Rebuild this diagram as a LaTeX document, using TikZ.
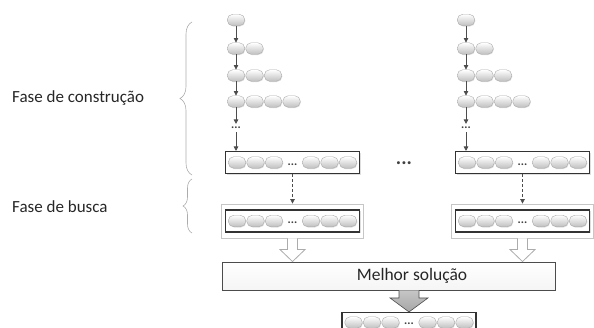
\documentclass[tikz,border=0pt]{standalone}
\usepackage{fontspec}
\setmainfont{Carlito}
\usetikzlibrary{arrows.meta,shadows,decorations.pathreplacing,calc}
\begin{document}
\begin{tikzpicture}[x=1pt,y=-1pt,
  pill/.style={draw=gray!65, rounded corners=5.5pt, minimum width=17.5pt, minimum height=11.5pt, inner sep=0pt,
    top color=white, bottom color=gray!50, drop shadow={opacity=0.25, shadow xshift=0.6pt, shadow yshift=-0.8pt}},
  arr/.style={draw=black!70, line width=0.7pt, -{Triangle[length=4.5pt,width=4.5pt]}},
  darr/.style={arr, dashed, dash pattern=on 3pt off 2pt},
  dotlab/.style={inner sep=0pt, font=\fontsize{12}{12}\selectfont\bfseries, text=black!75},
  solbox/.style={draw=black!80, line width=1.1pt, fill=white, minimum width=134pt, minimum height=22pt, inner sep=0pt,
    drop shadow={opacity=0.25, shadow xshift=1pt, shadow yshift=-1pt}},
  outerbox/.style={draw=gray!45, line width=0.8pt, fill=white, minimum width=142pt, minimum height=34pt, inner sep=0pt},
  hollow/.style={draw=gray!65, fill=white, line width=0.8pt, line join=miter},
  bigarrow/.style={draw=gray!60!black, top color=gray!45, bottom color=gray!70, line width=0.6pt, line join=miter},
  bestbox/.style={draw=black!70, line width=0.9pt, top color=white, bottom color=gray!8, minimum width=333pt, minimum height=28pt, inner sep=0pt,
    drop shadow={opacity=0.35, shadow xshift=1pt, shadow yshift=-1.2pt}},
  phase/.style={anchor=west, inner sep=0pt, font=\fontsize{17}{20}\selectfont, text=black!85},
  bracestyle/.style={draw=gray!65, line width=0.6pt, decorate}
]
\useasboundingbox (0,0) rectangle (594,327);

% phase labels and braces
\node[phase] (fc) at (12,98) {Fase de construção};
\node[phase] (fb) at (12,207) {Fase de busca};
\draw[bracestyle, decoration={brace, amplitude=12pt}] (192,175) -- (192,22);
\draw[bracestyle, decoration={brace, amplitude=9pt}] (192,233) -- (192,179);

% construction columns
\foreach \c/\ox in {L/0, R/230} {
  \foreach \r/\y/\n in {1/20/1, 2/48.5/2, 3/75.5/3, 4/101.5/4} {
    \foreach \k in {1,...,\n} {
      \node[pill] (\c\r-\k) at ({236+\ox+18.5*(\k-1)},\y) {};
    }
  }
  \node[dotlab] (\c dots) at ({236+\ox},128) {...};
}

% boxes of the two columns
\foreach \c/\cx in {L/292.5, R/522.5} {
  \node[solbox] (\c B1) at (\cx,162.5) {};
  \node[outerbox] (\c O) at (\cx,221) {};
  \node[solbox] (\c B2) at (\cx,221) {};
  \foreach \b/\by in {B1/162.5, B2/221} {
    \foreach \k/\dx in {1/-55.5, 2/-37, 3/-18.5, 4/18.5, 5/37, 6/55.5} {
      \node[pill] (\c\b-\k) at ({\cx+\dx},\by) {};
    }
    \node[dotlab] (\c\b-d) at (\cx,{\by+2}) {...};
  }
}

% arrows in the columns
\foreach \c in {L,R} {
  \draw[arr] (\c1-1) -- (\c2-1);
  \draw[arr] (\c2-1) -- (\c3-1);
  \draw[arr] (\c3-1) -- (\c4-1);
  \draw[arr] (\c4-1) -- ([yshift=3pt]\c dots.north);
  \draw[arr] ([yshift=-3pt]\c dots.south) -- (\c dots.south |- \c B1.north);
  \draw[darr] (\c B1.south) -- (\c O.north);
}

% middle dots
\node[inner sep=0pt, font=\fontsize{20}{20}\selectfont\bfseries, text=black!75] (mdots) at (404,163) {...};

% best solution box
\node[bestbox] (M) at (388.5,276) {};
\node[inner sep=0pt, font=\fontsize{17.5}{20}\selectfont, text=black!85] (mtext) at (412,276) {Melhor solução};

% hollow arrows into best box
\foreach \c in {L,R} {
  \path (\c O.south) coordinate (\c ha) (\c O.south |- M.north) coordinate (\c hb);
  \draw[hollow] ($(\c ha)+(-5,0)$) -- ($(\c hb)+(-5,-12)$) -- ($(\c hb)+(-12.5,-12)$) -- (\c hb)
     -- ($(\c hb)+(12.5,-12)$) -- ($(\c hb)+(5,-12)$) -- ($(\c ha)+(5,0)$);
}

% final box
\node[solbox] (F) at (409,323.5) {};
\foreach \k/\dx in {1/-55.5, 2/-37, 3/-18.5, 4/18.5, 5/37, 6/55.5} {
  \node[pill] (F-\k) at ({409+\dx},322.5) {};
}
\node[dotlab] (F-d) at (409,323.5) {...};

% big arrow
\path (M.south -| F.north) coordinate (ba) (F.north) coordinate (bb);
\draw[bigarrow] ($(ba)+(-10,0)$) -- ($(bb)+(-10,-14)$) -- ($(bb)+(-19,-14)$) -- (bb)
   -- ($(bb)+(19,-14)$) -- ($(bb)+(10,-14)$) -- ($(ba)+(10,0)$);
\end{tikzpicture}
\end{document}
